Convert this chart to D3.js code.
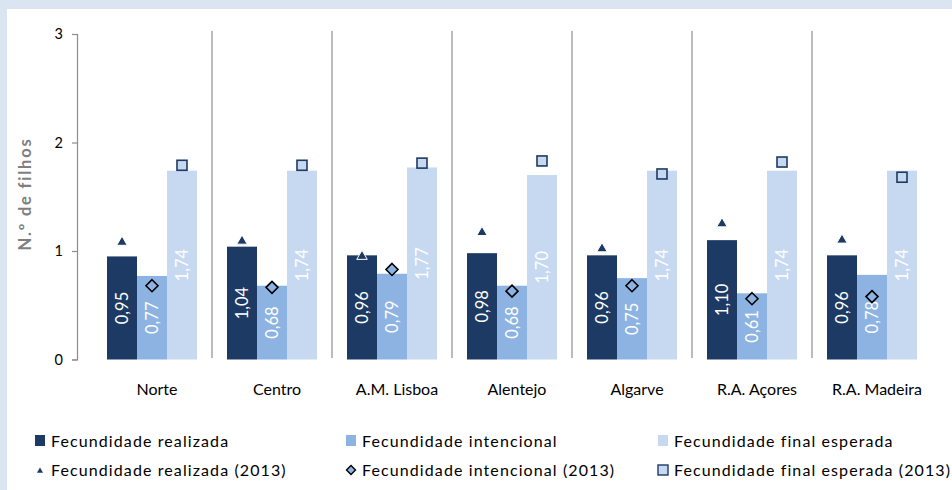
<!DOCTYPE html>
<html>
<head>
<meta charset="utf-8">
<script src="https://cdn.jsdelivr.net/npm/d3@7"></script>
<style>
  html, body { margin: 0; padding: 0; background: #dbe5f1; }
  svg { display: block; }
  text { font-family: Lato, "Open Sans", sans-serif; }
</style>
</head>
<body>
<svg id="chart" width="952" height="490"></svg>
<script>
const categories = ["Norte", "Centro", "A.M. Lisboa", "Alentejo", "Algarve", "R.A. Açores", "R.A. Madeira"];
const realizada = [0.95, 1.04, 0.96, 0.98, 0.96, 1.10, 0.96];
const intencional = [0.77, 0.68, 0.79, 0.68, 0.75, 0.61, 0.78];
const finalEsperada = [1.74, 1.74, 1.77, 1.70, 1.74, 1.74, 1.74];
const realizada2013 = [1.09, 1.10, 0.96, 1.18, 1.03, 1.26, 1.11];
const intencional2013 = [0.68, 0.665, 0.83, 0.63, 0.68, 0.56, 0.58];
const finalEsperada2013 = [1.79, 1.79, 1.81, 1.83, 1.71, 1.82, 1.68];
const yTicks = [0, 1, 2, 3];
const barSeries = ["Fecundidade realizada", "Fecundidade intencional", "Fecundidade final esperada"];
const markerSeries = ["Fecundidade realizada (2013)", "Fecundidade intencional (2013)", "Fecundidade final esperada (2013)"];
const yTitle = "N.º de filhos";

const colors = { dark: "#1c3a63", mid: "#8db3e2", light: "#c6d9f0" };
const barColors = [colors.dark, colors.mid, colors.light];
const barValues = [realizada, intencional, finalEsperada];

const svg = d3.select("#chart");
// white panel
svg.append("rect").attr("x", 7).attr("y", 9).attr("width", 945).attr("height", 481).attr("fill", "#ffffff");

const x = d3.scaleBand().domain(categories).range([92, 932]).paddingInner(0).paddingOuter(0);
const xs = d3.scaleBand().domain(barSeries).range([15, 105]);
const y = d3.scaleLinear().domain([0, 3]).range([359.5, 34]);

// separators
svg.append("g").selectAll("line").data(categories.slice(1)).join("line")
  .attr("x1", d => x(d)).attr("x2", d => x(d))
  .attr("y1", 31).attr("y2", 358)
  .attr("stroke", "#a6a6a6").attr("stroke-width", 1.5);

// y axis
const yAxis = d3.axisLeft(y).tickValues(yTicks).tickSize(5).tickPadding(9).tickFormat(d3.format("d"));
const gy = svg.append("g").attr("transform", "translate(77,0)").call(yAxis);
gy.select(".domain").attr("stroke", "#8c8c8c").attr("stroke-width", 1.2);
gy.selectAll(".tick line").attr("stroke", "#8c8c8c").attr("stroke-width", 1.2);
gy.selectAll(".tick text").attr("font-size", 14.5).attr("fill", "#000").style("font-family", "Lato, sans-serif");

svg.append("text")
  .attr("transform", `translate(31,194) rotate(-90)`)
  .attr("text-anchor", "middle")
  .attr("font-size", 16.5).attr("font-weight", "bold").attr("fill", "#7f7f7f")
  .attr("letter-spacing", 1.8)
  .text(yTitle);

// bars
const fmt = v => v.toFixed(2).replace(".", ",");
barSeries.forEach((s, si) => {
  const g = svg.append("g");
  g.selectAll("rect").data(categories).join("rect")
    .attr("x", (d) => x(d) + xs(s))
    .attr("y", (d, i) => y(barValues[si][i]))
    .attr("width", xs.bandwidth())
    .attr("height", (d, i) => y(0) - y(barValues[si][i]))
    .attr("fill", barColors[si]);
  g.selectAll("text").data(categories).join("text")
    .attr("transform", (d, i) => {
      const cx = x(d) + xs(s) + xs.bandwidth() / 2;
      const cy = (y(barValues[si][i]) + y(0)) / 2;
      return `translate(${cx + 6},${cy}) rotate(-90)`;
    })
    .attr("text-anchor", "middle")
    .attr("font-size", 16.5)
    .attr("fill", "#ffffff")
    .text((d, i) => fmt(barValues[si][i]));
});

// markers
const cxOf = (d, si) => x(d) + xs(barSeries[si]) + xs.bandwidth() / 2;
const tri = d3.symbol(d3.symbolTriangle, 48)();
svg.append("g").selectAll("path").data(categories).join("path")
  .attr("d", tri)
  .attr("transform", (d, i) => `translate(${cxOf(d, 0)},${y(realizada2013[i]) + 1})`)
  .attr("fill", colors.dark).attr("stroke", "#ffffff").attr("stroke-width", 1);

svg.append("g").selectAll("path").data(categories).join("path")
  .attr("d", "M0,-6 L6,0 L0,6 L-6,0 Z")
  .attr("transform", (d, i) => `translate(${cxOf(d, 1)},${y(intencional2013[i])})`)
  .attr("fill", colors.mid).attr("stroke", "#000000").attr("stroke-width", 1.6);

svg.append("g").selectAll("rect").data(categories).join("rect")
  .attr("x", d => cxOf(d, 2) - 5)
  .attr("y", (d, i) => y(finalEsperada2013[i]) - 5)
  .attr("width", 10).attr("height", 10)
  .attr("fill", colors.light).attr("stroke", colors.dark).attr("stroke-width", 1.6);

// category labels
svg.append("g").selectAll("text").data(categories).join("text")
  .attr("x", d => x(d) + x.bandwidth() / 2 + 5)
  .attr("y", 395)
  .attr("text-anchor", "middle")
  .attr("font-size", 16)
  .attr("fill", "#000")
  .text(d => d);

// legend
const legCols = [35, 346, 658];
const legRows = [441, 470];
const legFont = 16, legSpacing = 1.1;
const leg = svg.append("g");
barSeries.forEach((s, i) => {
  leg.append("rect").attr("x", legCols[i]).attr("y", legRows[0] - 6).attr("width", 10).attr("height", 11).attr("fill", barColors[i]);
  leg.append("text").attr("x", legCols[i] + 16).attr("y", legRows[0] + 5.5).attr("font-size", legFont).attr("letter-spacing", legSpacing).attr("fill", "#000").text(s);
});
leg.append("path").attr("d", d3.symbol(d3.symbolTriangle, 16)())
  .attr("transform", `translate(${legCols[0] + 5},${legRows[1] + 1})`).attr("fill", colors.dark);
leg.append("path").attr("d", "M0,-4.5 L4.5,0 L0,4.5 L-4.5,0 Z")
  .attr("transform", `translate(${legCols[1] + 5},${legRows[1]})`)
  .attr("fill", colors.mid).attr("stroke", "#000").attr("stroke-width", 1.4);
leg.append("rect").attr("x", legCols[2]).attr("y", legRows[1] - 5).attr("width", 10).attr("height", 10)
  .attr("fill", colors.light).attr("stroke", colors.dark).attr("stroke-width", 1.4);
markerSeries.forEach((s, i) => {
  leg.append("text").attr("x", legCols[i] + 16).attr("y", legRows[1] + 5.5).attr("font-size", legFont).attr("letter-spacing", legSpacing).attr("fill", "#000").text(s);
});
</script>
</body>
</html>
